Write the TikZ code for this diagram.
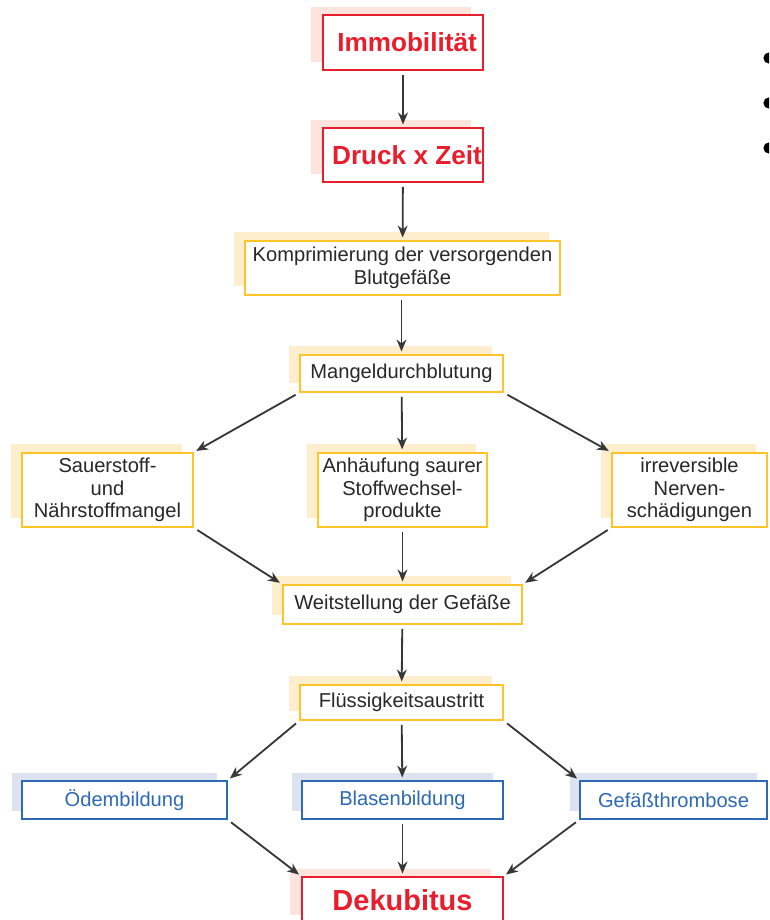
\documentclass[tikz,border=0pt]{standalone}
\usepackage{fontspec}
\setmainfont{Liberation Sans}
\usetikzlibrary{arrows.meta,shadows}
\definecolor{redline}{RGB}{232,30,45}
\definecolor{redshade}{RGB}{253,228,220}
\definecolor{orangeline}{RGB}{255,196,40}
\definecolor{orangeshade}{RGB}{255,238,205}
\definecolor{blueline}{RGB}{45,105,180}
\definecolor{blueshade}{RGB}{220,226,240}
\definecolor{textgray}{RGB}{40,40,40}
\definecolor{arrowgray}{RGB}{55,55,55}
\begin{document}
\begin{tikzpicture}[x=0.025cm, y=-0.025cm,
    redbox/.style={draw=redline, line width=1pt, fill=white, text=redline, inner sep=0pt,
        font=\bfseries\fontsize{18.6}{22}\selectfont,
        general shadow={fill=redshade, shadow xshift=-0.3cm, shadow yshift=0.2cm}},
    orangebox/.style={draw=orangeline, line width=1pt, fill=white, text=textgray, inner sep=0pt, align=center,
        font=\fontsize{14.3}{16}\selectfont,
        general shadow={fill=orangeshade, shadow xshift=-0.28cm, shadow yshift=0.22cm}},
    bluebox/.style={draw=blueline, line width=1pt, fill=white, text=blueline, inner sep=0pt,
        font=\fontsize{14.3}{16}\selectfont,
        general shadow={fill=blueshade, shadow xshift=-0.25cm, shadow yshift=0.2cm}},
    >={Stealth[length=8.5pt,width=7pt]}]
    \useasboundingbox (0,0) rectangle (769,920);
    \clip (0,0) rectangle (769,920);

    % Boxes
    \node[redbox, minimum width=4cm, minimum height=1.375cm] (immo) at (403,42.5) {\hspace*{0.2cm}Immobilität};
    \node[redbox, minimum width=4cm, minimum height=1.35cm] (druck) at (403,155) {\hspace*{0.2cm}Druck x Zeit};
    \node[orangebox, minimum width=7.875cm, minimum height=1.35cm] (kompr) at (402.5,268) {Komprimierung der versorgenden\\Blutgefäße};
    \node[orangebox, minimum width=5.075cm, minimum height=0.925cm] (mangel) at (401.5,373.5) {Mangeldurchblutung};
    \node[orangebox, minimum width=4.275cm, minimum height=1.85cm] (sauer) at (107.5,490) {Sauerstoff-\\und\\Nährstoffmangel};
    \node[orangebox, minimum width=4.225cm, minimum height=1.85cm] (anhauf) at (402.5,490) {Anhäufung saurer\\Stoffwechsel-\\produkte};
    \node[orangebox, minimum width=3.875cm, minimum height=1.85cm] (nerven) at (689.5,490) {irreversible\\Nerven-\\schädigungen};
    \node[orangebox, minimum width=5.975cm, minimum height=0.975cm] (weit) at (402.5,604.5) {Weitstellung der Gefäße};
    \node[orangebox, minimum width=5.075cm, minimum height=0.875cm] (fluss) at (401.5,702.5) {Flüssigkeitsaustritt};
    \node[bluebox, minimum width=5.125cm, minimum height=0.95cm] (oedem) at (124.5,800) {Ödembildung};
    \node[bluebox, minimum width=5.025cm, minimum height=0.95cm] (blasen) at (402.5,800) {Blasenbildung};
    \node[bluebox, minimum width=4.675cm, minimum height=0.95cm] (thromb) at (673.5,800) {Gefäßthrombose};
    \node[redbox, minimum width=5.025cm, minimum height=1.15cm, font=\bfseries\fontsize{20.6}{24}\selectfont] (dekub) at (402.5,900) {Dekubitus};

    % Bullets
    \fill (769,58) circle[radius=0.14cm];
    \fill (769,103) circle[radius=0.14cm];
    \fill (769,148) circle[radius=0.14cm];

    % Arrows
    \begin{scope}[draw=arrowgray, line width=1.3pt, shorten <=3pt, shorten >=2pt]
    \draw[->] (immo) -- (druck);
    \draw[->] (druck) -- (kompr);
    \draw[->] (kompr.south -| mangel) -- (mangel);
    \draw[->] (mangel.south west) -- (sauer.north east);
    \draw[->] (mangel) -- (anhauf);
    \draw[->] (mangel.south east) -- (nerven.north west);
    \draw[->] (sauer.south east) -- (weit.north west);
    \draw[->] (anhauf) -- (weit);
    \draw[->] (nerven.south west) -- (weit.north east);
    \draw[->] (weit) -- (fluss);
    \draw[->] (fluss.south west) -- (oedem.north east);
    \draw[->] (fluss) -- (blasen);
    \draw[->] (fluss.south east) -- (thromb.north west);
    \draw[->] (oedem.south east) -- (dekub.north west);
    \draw[->] (blasen) -- (dekub);
    \draw[->] (thromb.south west) -- (dekub.north east);
    \end{scope}
\end{tikzpicture}
\end{document}
